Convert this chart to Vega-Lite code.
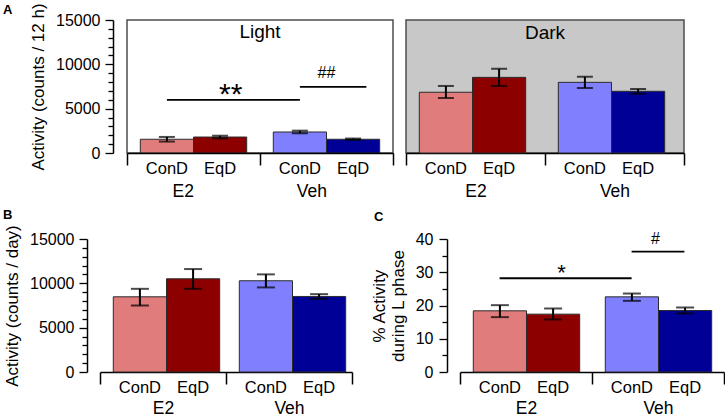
{
  "$schema": "https://vega.github.io/schema/vega-lite/v6.json",
  "background": "white",
  "padding": {"left": 3, "top": 2, "right": 0, "bottom": 0},
  "columns": 1,
  "align": "none",
  "spacing": 7,
  "datasets": {
    "light": [
      {"group": "E2", "cond": "ConD", "key": "E2 ConD", "mean": 1550, "lo": 1290, "hi": 1810},
      {"group": "E2", "cond": "EqD", "key": "E2 EqD", "mean": 1800, "lo": 1650, "hi": 1950},
      {"group": "Veh", "cond": "ConD", "key": "Veh ConD", "mean": 2370, "lo": 2220, "hi": 2520},
      {"group": "Veh", "cond": "EqD", "key": "Veh EqD", "mean": 1550, "lo": 1470, "hi": 1630}
    ],
    "dark": [
      {"group": "E2", "cond": "ConD", "key": "E2 ConD", "mean": 6850, "lo": 6200, "hi": 7560},
      {"group": "E2", "cond": "EqD", "key": "E2 EqD", "mean": 8530, "lo": 7560, "hi": 9500},
      {"group": "Veh", "cond": "ConD", "key": "Veh ConD", "mean": 7970, "lo": 7330, "hi": 8600},
      {"group": "Veh", "cond": "EqD", "key": "Veh EqD", "mean": 6960, "lo": 6690, "hi": 7220}
    ],
    "day": [
      {"group": "E2", "cond": "ConD", "key": "E2 ConD", "mean": 8480, "lo": 7500, "hi": 9380},
      {"group": "E2", "cond": "EqD", "key": "E2 EqD", "mean": 10510, "lo": 9380, "hi": 11610},
      {"group": "Veh", "cond": "ConD", "key": "Veh ConD", "mean": 10290, "lo": 9540, "hi": 11010},
      {"group": "Veh", "cond": "EqD", "key": "Veh EqD", "mean": 8520, "lo": 8250, "hi": 8780}
    ],
    "pct": [
      {"group": "E2", "cond": "ConD", "key": "E2 ConD", "mean": 18.4, "lo": 16.5, "hi": 20.1},
      {"group": "E2", "cond": "EqD", "key": "E2 EqD", "mean": 17.4, "lo": 15.8, "hi": 19.1},
      {"group": "Veh", "cond": "ConD", "key": "Veh ConD", "mean": 22.6, "lo": 21.4, "hi": 23.6},
      {"group": "Veh", "cond": "EqD", "key": "Veh EqD", "mean": 18.5, "lo": 17.6, "hi": 19.4}
    ]
  },
  "concat": [
    {
      "spacing": 10,
      "hconcat": [
        {
          "width": 293,
          "height": 133,
          "title": {"text": "A", "anchor": "start", "frame": "group", "dx": -97, "dy": 18},
          "layer": [
            {
              "data": {"values": [{"panel": "Light"}]},
              "mark": {"type": "rect", "fill": "#ffffff", "stroke": "#4d4d4d", "strokeWidth": 1.5},
              "encoding": {
                "x": {"datum": "E2", "type": "nominal", "bandPosition": 0, "title": null},
                "x2": {"datum": "Veh", "bandPosition": 1},
                "y": {"datum": 0, "type": "quantitative", "title": "Activity (counts / 12 h)",
                  "axis": {"values": [0,1000,2000,3000,4000,5000,6000,7000,8000,9000,10000,11000,12000,13000,14000,15000], "format": "d", "offset": -13, "labelExpr": "datum.value % 5000 === 0 ? datum.label : ''", "tickSize": {"condition": {"test": "datum.value % 5000 === 0", "value": 8}, "value": 5}}},
                "y2": {"datum": 15000}
              }
            },
            {
              "data": {"name": "light"},
              "mark": {"type": "bar", "stroke": "#2b2b2b", "strokeWidth": 1},
              "encoding": {
                "x": {"field": "group", "type": "nominal", "title": null, "scale": {"domain": ["E2", "Veh"], "range": [27, 293], "paddingInner": 0, "paddingOuter": 0},
                  "axis": {"title": null, "tickBand": "extent", "tickSize": 12, "tickWidth": 1.5, "domainWidth": 1.5, "labelFontSize": 17.5, "labelBaseline": "alphabetic", "labelPadding": 31, "labelAngle": 0}},
                "xOffset": {"field": "cond", "type": "nominal", "scale": {"domain": ["ConD", "EqD"], "paddingInner": 0, "paddingOuter": 0.25}},
                "y": {"field": "mean", "type": "quantitative", "title": "Activity (counts / 12 h)", "scale": {"domain": [0, 15000], "nice": false},
                  "axis": {"values": [0,1000,2000,3000,4000,5000,6000,7000,8000,9000,10000,11000,12000,13000,14000,15000], "format": "d", "offset": -13, "labelExpr": "datum.value % 5000 === 0 ? datum.label : ''", "tickSize": {"condition": {"test": "datum.value % 5000 === 0", "value": 8}, "value": 5}}},
                "color": {"field": "key", "type": "nominal", "scale": {"domain": ["E2 ConD", "E2 EqD", "Veh ConD", "Veh EqD"], "range": ["#e07c7c", "#8c0000", "#8080ff", "#000096"]}, "legend": null}
              }
            },
            {
              "data": {"name": "light"},
              "mark": {"type": "rule", "strokeWidth": 2, "color": "#000"},
              "encoding": {
                "x": {"field": "group", "type": "nominal", "title": null},
                "xOffset": {"field": "cond", "type": "nominal"},
                "y": {"field": "lo", "type": "quantitative", "title": "Activity (counts / 12 h)",
                  "axis": {"values": [0,1000,2000,3000,4000,5000,6000,7000,8000,9000,10000,11000,12000,13000,14000,15000], "format": "d", "offset": -13, "labelExpr": "datum.value % 5000 === 0 ? datum.label : ''", "tickSize": {"condition": {"test": "datum.value % 5000 === 0", "value": 8}, "value": 5}}},
                "y2": {"field": "hi"}
              }
            },
            {
              "data": {"name": "light"},
              "mark": {"type": "tick", "thickness": 2, "size": 16, "color": "#000", "orient": "horizontal"},
              "encoding": {
                "x": {"field": "group", "type": "nominal", "title": null},
                "xOffset": {"field": "cond", "type": "nominal"},
                "y": {"field": "lo", "type": "quantitative", "title": "Activity (counts / 12 h)",
                  "axis": {"values": [0,1000,2000,3000,4000,5000,6000,7000,8000,9000,10000,11000,12000,13000,14000,15000], "format": "d", "offset": -13, "labelExpr": "datum.value % 5000 === 0 ? datum.label : ''", "tickSize": {"condition": {"test": "datum.value % 5000 === 0", "value": 8}, "value": 5}}}
              }
            },
            {
              "data": {"name": "light"},
              "mark": {"type": "tick", "thickness": 2, "size": 16, "color": "#000", "orient": "horizontal"},
              "encoding": {
                "x": {"field": "group", "type": "nominal", "title": null},
                "xOffset": {"field": "cond", "type": "nominal"},
                "y": {"field": "hi", "type": "quantitative", "title": "Activity (counts / 12 h)",
                  "axis": {"values": [0,1000,2000,3000,4000,5000,6000,7000,8000,9000,10000,11000,12000,13000,14000,15000], "format": "d", "offset": -13, "labelExpr": "datum.value % 5000 === 0 ? datum.label : ''", "tickSize": {"condition": {"test": "datum.value % 5000 === 0", "value": 8}, "value": 5}}}
              }
            },
            {
              "data": {"name": "light"},
              "mark": {"type": "text", "fontSize": 16.5, "baseline": "alphabetic", "dy": 21, "color": "#000"},
              "encoding": {
                "x": {"field": "group", "type": "nominal", "title": null},
                "xOffset": {"field": "cond", "type": "nominal"},
                "y": {"datum": 0, "type": "quantitative", "title": "Activity (counts / 12 h)",
                  "axis": {"values": [0,1000,2000,3000,4000,5000,6000,7000,8000,9000,10000,11000,12000,13000,14000,15000], "format": "d", "offset": -13, "labelExpr": "datum.value % 5000 === 0 ? datum.label : ''", "tickSize": {"condition": {"test": "datum.value % 5000 === 0", "value": 8}, "value": 5}}},
                "text": {"field": "cond"}
              }
            },
            {
              "data": {"values": [{"label": "**", "from": "E2", "to": "Veh", "level": 6000}]},
              "layer": [
                {
                  "mark": {"type": "rule", "strokeWidth": 1.8, "color": "#000"},
                  "encoding": {
                    "x": {"field": "from", "type": "nominal", "bandPosition": 0.3, "title": null},
                    "x2": {"field": "to", "bandPosition": 0.3},
                    "y": {"field": "level", "type": "quantitative", "title": "Activity (counts / 12 h)",
                      "axis": {"values": [0,1000,2000,3000,4000,5000,6000,7000,8000,9000,10000,11000,12000,13000,14000,15000], "format": "d", "offset": -13, "labelExpr": "datum.value % 5000 === 0 ? datum.label : ''", "tickSize": {"condition": {"test": "datum.value % 5000 === 0", "value": 8}, "value": 5}}}
                  }
                },
                {
                  "mark": {"type": "text", "fontSize": 30, "baseline": "alphabetic", "dy": 4, "color": "#000"},
                  "encoding": {
                    "x": {"field": "from", "type": "nominal", "bandPosition": 0.78, "title": null},
                    "y": {"field": "level", "type": "quantitative", "title": "Activity (counts / 12 h)",
                      "axis": {"values": [0,1000,2000,3000,4000,5000,6000,7000,8000,9000,10000,11000,12000,13000,14000,15000], "format": "d", "offset": -13, "labelExpr": "datum.value % 5000 === 0 ? datum.label : ''", "tickSize": {"condition": {"test": "datum.value % 5000 === 0", "value": 8}, "value": 5}}},
                    "text": {"field": "label"}
                  }
                }
              ]
            },
            {
              "data": {"values": [{"label": "##", "from": "Veh", "to": "Veh", "level": 7450}]},
              "layer": [
                {
                  "mark": {"type": "rule", "strokeWidth": 1.8, "color": "#000"},
                  "encoding": {
                    "x": {"field": "from", "type": "nominal", "bandPosition": 0.3, "title": null},
                    "x2": {"field": "to", "bandPosition": 0.8},
                    "y": {"field": "level", "type": "quantitative", "title": "Activity (counts / 12 h)",
                      "axis": {"values": [0,1000,2000,3000,4000,5000,6000,7000,8000,9000,10000,11000,12000,13000,14000,15000], "format": "d", "offset": -13, "labelExpr": "datum.value % 5000 === 0 ? datum.label : ''", "tickSize": {"condition": {"test": "datum.value % 5000 === 0", "value": 8}, "value": 5}}}
                  }
                },
                {
                  "mark": {"type": "text", "fontSize": 16, "baseline": "alphabetic", "dy": -9, "color": "#000"},
                  "encoding": {
                    "x": {"field": "to", "type": "nominal", "bandPosition": 0.5, "title": null},
                    "y": {"field": "level", "type": "quantitative", "title": "Activity (counts / 12 h)",
                      "axis": {"values": [0,1000,2000,3000,4000,5000,6000,7000,8000,9000,10000,11000,12000,13000,14000,15000], "format": "d", "offset": -13, "labelExpr": "datum.value % 5000 === 0 ? datum.label : ''", "tickSize": {"condition": {"test": "datum.value % 5000 === 0", "value": 8}, "value": 5}}},
                    "text": {"field": "label"}
                  }
                }
              ]
            },
            {
              "data": {"values": [{"phase": "Light"}]},
              "mark": {"type": "text", "fontSize": 19, "baseline": "alphabetic", "color": "#000"},
              "encoding": {
                "x": {"datum": "Veh", "type": "nominal", "bandPosition": 0, "title": null},
                "y": {"datum": 13000, "type": "quantitative", "title": "Activity (counts / 12 h)",
                  "axis": {"values": [0,1000,2000,3000,4000,5000,6000,7000,8000,9000,10000,11000,12000,13000,14000,15000], "format": "d", "offset": -13, "labelExpr": "datum.value % 5000 === 0 ? datum.label : ''", "tickSize": {"condition": {"test": "datum.value % 5000 === 0", "value": 8}, "value": 5}}},
                "text": {"field": "phase"}
              }
            }
          ]
        },
        {
          "width": 278,
          "height": 133,
          "view": {"stroke": "#4d4d4d", "strokeWidth": 1.5, "fill": "#c8c8c8"},
          "layer": [
            {
              "data": {"name": "dark"},
              "mark": {"type": "bar", "stroke": "#2b2b2b", "strokeWidth": 1},
              "encoding": {
                "x": {"field": "group", "type": "nominal", "title": null, "scale": {"domain": ["E2", "Veh"], "paddingInner": 0, "paddingOuter": 0},
                  "axis": {"title": null, "tickBand": "extent", "tickSize": 12, "tickWidth": 1.5, "domainWidth": 1.5, "labelFontSize": 17.5, "labelBaseline": "alphabetic", "labelPadding": 31, "labelAngle": 0}},
                "xOffset": {"field": "cond", "type": "nominal", "scale": {"domain": ["ConD", "EqD"], "paddingInner": 0, "paddingOuter": 0.25}},
                "y": {"field": "mean", "type": "quantitative", "scale": {"domain": [0, 15000], "nice": false}, "axis": null},
                "color": {"field": "key", "type": "nominal", "scale": {"domain": ["E2 ConD", "E2 EqD", "Veh ConD", "Veh EqD"], "range": ["#e07c7c", "#8c0000", "#8080ff", "#000096"]}, "legend": null}
              }
            },
            {
              "data": {"name": "dark"},
              "mark": {"type": "rule", "strokeWidth": 2, "color": "#000"},
              "encoding": {
                "x": {"field": "group", "type": "nominal", "title": null},
                "xOffset": {"field": "cond", "type": "nominal"},
                "y": {"field": "lo", "type": "quantitative", "axis": null},
                "y2": {"field": "hi"}
              }
            },
            {
              "data": {"name": "dark"},
              "mark": {"type": "tick", "thickness": 2, "size": 16, "color": "#000", "orient": "horizontal"},
              "encoding": {
                "x": {"field": "group", "type": "nominal", "title": null},
                "xOffset": {"field": "cond", "type": "nominal"},
                "y": {"field": "lo", "type": "quantitative", "axis": null}
              }
            },
            {
              "data": {"name": "dark"},
              "mark": {"type": "tick", "thickness": 2, "size": 16, "color": "#000", "orient": "horizontal"},
              "encoding": {
                "x": {"field": "group", "type": "nominal", "title": null},
                "xOffset": {"field": "cond", "type": "nominal"},
                "y": {"field": "hi", "type": "quantitative", "axis": null}
              }
            },
            {
              "data": {"name": "dark"},
              "mark": {"type": "text", "fontSize": 16.5, "baseline": "alphabetic", "dy": 21, "color": "#000"},
              "encoding": {
                "x": {"field": "group", "type": "nominal", "title": null},
                "xOffset": {"field": "cond", "type": "nominal"},
                "y": {"datum": 0, "type": "quantitative", "axis": null},
                "text": {"field": "cond"}
              }
            },
            {
              "data": {"values": [{"phase": "Dark"}]},
              "mark": {"type": "text", "fontSize": 19, "baseline": "alphabetic", "color": "#000"},
              "encoding": {
                "y": {"datum": 12900, "type": "quantitative", "axis": null},
                "text": {"field": "phase"}
              }
            }
          ]
        }
      ]
    },
    {
      "spacing": 17,
      "hconcat": [
        {
          "width": 252,
          "height": 133,
          "title": {"text": "B", "anchor": "start", "frame": "group", "dx": -97, "dy": 1},
          "layer": [
            {
              "data": {"name": "day"},
              "mark": {"type": "bar", "stroke": "#2b2b2b", "strokeWidth": 1},
              "encoding": {
                "x": {"field": "group", "type": "nominal", "title": null, "scale": {"domain": ["E2", "Veh"], "paddingInner": 0, "paddingOuter": 0},
                  "axis": {"title": null, "tickBand": "extent", "tickSize": 12, "tickWidth": 1.5, "domainWidth": 1.5, "labelFontSize": 17.5, "labelBaseline": "alphabetic", "labelPadding": 29, "labelAngle": 0}},
                "xOffset": {"field": "cond", "type": "nominal", "scale": {"domain": ["ConD", "EqD"], "paddingInner": 0, "paddingOuter": 0.25}},
                "y": {"field": "mean", "type": "quantitative", "title": "Activity (counts / day)", "scale": {"domain": [0, 15000], "nice": false},
                  "axis": {"values": [0,1000,2000,3000,4000,5000,6000,7000,8000,9000,10000,11000,12000,13000,14000,15000], "format": "d", "offset": 13, "labelExpr": "datum.value % 5000 === 0 ? datum.label : ''", "tickSize": {"condition": {"test": "datum.value % 5000 === 0", "value": 8}, "value": 5}}},
                "color": {"field": "key", "type": "nominal", "scale": {"domain": ["E2 ConD", "E2 EqD", "Veh ConD", "Veh EqD"], "range": ["#e07c7c", "#8c0000", "#8080ff", "#000096"]}, "legend": null}
              }
            },
            {
              "data": {"name": "day"},
              "mark": {"type": "rule", "strokeWidth": 2, "color": "#000"},
              "encoding": {
                "x": {"field": "group", "type": "nominal", "title": null},
                "xOffset": {"field": "cond", "type": "nominal"},
                "y": {"field": "lo", "type": "quantitative", "title": "Activity (counts / day)",
                  "axis": {"values": [0,1000,2000,3000,4000,5000,6000,7000,8000,9000,10000,11000,12000,13000,14000,15000], "format": "d", "offset": 13, "labelExpr": "datum.value % 5000 === 0 ? datum.label : ''", "tickSize": {"condition": {"test": "datum.value % 5000 === 0", "value": 8}, "value": 5}}},
                "y2": {"field": "hi"}
              }
            },
            {
              "data": {"name": "day"},
              "mark": {"type": "tick", "thickness": 2, "size": 18, "color": "#000", "orient": "horizontal"},
              "encoding": {
                "x": {"field": "group", "type": "nominal", "title": null},
                "xOffset": {"field": "cond", "type": "nominal"},
                "y": {"field": "lo", "type": "quantitative", "title": "Activity (counts / day)",
                  "axis": {"values": [0,1000,2000,3000,4000,5000,6000,7000,8000,9000,10000,11000,12000,13000,14000,15000], "format": "d", "offset": 13, "labelExpr": "datum.value % 5000 === 0 ? datum.label : ''", "tickSize": {"condition": {"test": "datum.value % 5000 === 0", "value": 8}, "value": 5}}}
              }
            },
            {
              "data": {"name": "day"},
              "mark": {"type": "tick", "thickness": 2, "size": 18, "color": "#000", "orient": "horizontal"},
              "encoding": {
                "x": {"field": "group", "type": "nominal", "title": null},
                "xOffset": {"field": "cond", "type": "nominal"},
                "y": {"field": "hi", "type": "quantitative", "title": "Activity (counts / day)",
                  "axis": {"values": [0,1000,2000,3000,4000,5000,6000,7000,8000,9000,10000,11000,12000,13000,14000,15000], "format": "d", "offset": 13, "labelExpr": "datum.value % 5000 === 0 ? datum.label : ''", "tickSize": {"condition": {"test": "datum.value % 5000 === 0", "value": 8}, "value": 5}}}
              }
            },
            {
              "data": {"name": "day"},
              "mark": {"type": "text", "fontSize": 16.5, "baseline": "alphabetic", "dy": 21, "color": "#000"},
              "encoding": {
                "x": {"field": "group", "type": "nominal", "title": null},
                "xOffset": {"field": "cond", "type": "nominal"},
                "y": {"datum": 0, "type": "quantitative", "title": "Activity (counts / day)",
                  "axis": {"values": [0,1000,2000,3000,4000,5000,6000,7000,8000,9000,10000,11000,12000,13000,14000,15000], "format": "d", "offset": 13, "labelExpr": "datum.value % 5000 === 0 ? datum.label : ''", "tickSize": {"condition": {"test": "datum.value % 5000 === 0", "value": 8}, "value": 5}}},
                "text": {"field": "cond"}
              }
            }
          ]
        },
        {
          "width": 264,
          "height": 133,
          "title": {"text": "C", "anchor": "start", "frame": "group", "dx": -86, "dy": -3},
          "layer": [
            {
              "data": {"name": "pct"},
              "mark": {"type": "bar", "stroke": "#2b2b2b", "strokeWidth": 1},
              "encoding": {
                "x": {"field": "group", "type": "nominal", "title": null, "scale": {"domain": ["E2", "Veh"], "paddingInner": 0, "paddingOuter": 0},
                  "axis": {"title": null, "tickBand": "extent", "tickSize": 12, "tickWidth": 1.5, "domainWidth": 1.5, "labelFontSize": 17.5, "labelBaseline": "alphabetic", "labelPadding": 29, "labelAngle": 0}},
                "xOffset": {"field": "cond", "type": "nominal", "scale": {"domain": ["ConD", "EqD"], "paddingInner": 0, "paddingOuter": 0.25}},
                "y": {"field": "mean", "type": "quantitative", "title": ["% Activity", "during L phase"], "scale": {"domain": [0, 40], "nice": false},
                  "axis": {"values": [0,5,10,15,20,25,30,35,40], "format": "d", "offset": 13, "labelPadding": 6, "titleLineHeight": 19, "labelExpr": "datum.value % 10 === 0 ? datum.label : ''", "tickSize": {"condition": {"test": "datum.value % 10 === 0", "value": 8}, "value": 5}}},
                "color": {"field": "key", "type": "nominal", "scale": {"domain": ["E2 ConD", "E2 EqD", "Veh ConD", "Veh EqD"], "range": ["#e07c7c", "#8c0000", "#8080ff", "#000096"]}, "legend": null}
              }
            },
            {
              "data": {"name": "pct"},
              "mark": {"type": "rule", "strokeWidth": 2, "color": "#000"},
              "encoding": {
                "x": {"field": "group", "type": "nominal", "title": null},
                "xOffset": {"field": "cond", "type": "nominal"},
                "y": {"field": "lo", "type": "quantitative", "title": ["% Activity", "during L phase"],
                  "axis": {"values": [0,5,10,15,20,25,30,35,40], "format": "d", "offset": 13, "labelPadding": 6, "titleLineHeight": 19, "labelExpr": "datum.value % 10 === 0 ? datum.label : ''", "tickSize": {"condition": {"test": "datum.value % 10 === 0", "value": 8}, "value": 5}}},
                "y2": {"field": "hi"}
              }
            },
            {
              "data": {"name": "pct"},
              "mark": {"type": "tick", "thickness": 2, "size": 18, "color": "#000", "orient": "horizontal"},
              "encoding": {
                "x": {"field": "group", "type": "nominal", "title": null},
                "xOffset": {"field": "cond", "type": "nominal"},
                "y": {"field": "lo", "type": "quantitative", "title": ["% Activity", "during L phase"],
                  "axis": {"values": [0,5,10,15,20,25,30,35,40], "format": "d", "offset": 13, "labelPadding": 6, "titleLineHeight": 19, "labelExpr": "datum.value % 10 === 0 ? datum.label : ''", "tickSize": {"condition": {"test": "datum.value % 10 === 0", "value": 8}, "value": 5}}}
              }
            },
            {
              "data": {"name": "pct"},
              "mark": {"type": "tick", "thickness": 2, "size": 18, "color": "#000", "orient": "horizontal"},
              "encoding": {
                "x": {"field": "group", "type": "nominal", "title": null},
                "xOffset": {"field": "cond", "type": "nominal"},
                "y": {"field": "hi", "type": "quantitative", "title": ["% Activity", "during L phase"],
                  "axis": {"values": [0,5,10,15,20,25,30,35,40], "format": "d", "offset": 13, "labelPadding": 6, "titleLineHeight": 19, "labelExpr": "datum.value % 10 === 0 ? datum.label : ''", "tickSize": {"condition": {"test": "datum.value % 10 === 0", "value": 8}, "value": 5}}}
              }
            },
            {
              "data": {"name": "pct"},
              "mark": {"type": "text", "fontSize": 16.5, "baseline": "alphabetic", "dy": 21, "color": "#000"},
              "encoding": {
                "x": {"field": "group", "type": "nominal", "title": null},
                "xOffset": {"field": "cond", "type": "nominal"},
                "y": {"datum": 0, "type": "quantitative", "title": ["% Activity", "during L phase"],
                  "axis": {"values": [0,5,10,15,20,25,30,35,40], "format": "d", "offset": 13, "labelPadding": 6, "titleLineHeight": 19, "labelExpr": "datum.value % 10 === 0 ? datum.label : ''", "tickSize": {"condition": {"test": "datum.value % 10 === 0", "value": 8}, "value": 5}}},
                "text": {"field": "cond"}
              }
            },
            {
              "data": {"values": [{"label": "*", "from": "E2", "to": "Veh", "level": 28.2}]},
              "layer": [
                {
                  "mark": {"type": "rule", "strokeWidth": 1.8, "color": "#000"},
                  "encoding": {
                    "x": {"field": "from", "type": "nominal", "bandPosition": 0.3, "title": null},
                    "x2": {"field": "to", "bandPosition": 0.3},
                    "y": {"field": "level", "type": "quantitative", "title": ["% Activity", "during L phase"],
                      "axis": {"values": [0,5,10,15,20,25,30,35,40], "format": "d", "offset": 13, "labelPadding": 6, "titleLineHeight": 19, "labelExpr": "datum.value % 10 === 0 ? datum.label : ''", "tickSize": {"condition": {"test": "datum.value % 10 === 0", "value": 8}, "value": 5}}}
                  }
                },
                {
                  "mark": {"type": "text", "fontSize": 22, "baseline": "alphabetic", "dy": 2, "color": "#000"},
                  "encoding": {
                    "x": {"field": "from", "type": "nominal", "bandPosition": 0.77, "title": null},
                    "y": {"field": "level", "type": "quantitative", "title": ["% Activity", "during L phase"],
                      "axis": {"values": [0,5,10,15,20,25,30,35,40], "format": "d", "offset": 13, "labelPadding": 6, "titleLineHeight": 19, "labelExpr": "datum.value % 10 === 0 ? datum.label : ''", "tickSize": {"condition": {"test": "datum.value % 10 === 0", "value": 8}, "value": 5}}},
                    "text": {"field": "label"}
                  }
                }
              ]
            },
            {
              "data": {"values": [{"label": "#", "from": "Veh", "to": "Veh", "level": 36.2}]},
              "layer": [
                {
                  "mark": {"type": "rule", "strokeWidth": 1.8, "color": "#000"},
                  "encoding": {
                    "x": {"field": "from", "type": "nominal", "bandPosition": 0.3, "title": null},
                    "x2": {"field": "to", "bandPosition": 0.7},
                    "y": {"field": "level", "type": "quantitative", "title": ["% Activity", "during L phase"],
                      "axis": {"values": [0,5,10,15,20,25,30,35,40], "format": "d", "offset": 13, "labelPadding": 6, "titleLineHeight": 19, "labelExpr": "datum.value % 10 === 0 ? datum.label : ''", "tickSize": {"condition": {"test": "datum.value % 10 === 0", "value": 8}, "value": 5}}}
                  }
                },
                {
                  "mark": {"type": "text", "fontSize": 16, "baseline": "alphabetic", "dy": -8, "color": "#000"},
                  "encoding": {
                    "x": {"field": "to", "type": "nominal", "bandPosition": 0.48, "title": null},
                    "y": {"field": "level", "type": "quantitative", "title": ["% Activity", "during L phase"],
                      "axis": {"values": [0,5,10,15,20,25,30,35,40], "format": "d", "offset": 13, "labelPadding": 6, "titleLineHeight": 19, "labelExpr": "datum.value % 10 === 0 ? datum.label : ''", "tickSize": {"condition": {"test": "datum.value % 10 === 0", "value": 8}, "value": 5}}},
                    "text": {"field": "label"}
                  }
                }
              ]
            }
          ]
        }
      ]
    }
  ],
  "config": {
    "font": "Liberation Sans",
    "view": {"stroke": null},
    "axis": {"domainColor": "#000", "tickColor": "#000", "labelColor": "#000", "titleColor": "#000", "labelFont": "Liberation Sans", "titleFont": "Liberation Sans", "titleFontWeight": "normal", "grid": false},
    "axisY": {"labelFontSize": 16, "labelPadding": 5, "titleFontSize": 17, "titlePadding": 8, "domainWidth": 1.5, "tickWidth": 1.3, "labelOverlap": false, "labelFlush": false, "labelBound": false},
    "title": {"font": "Liberation Sans", "fontSize": 13, "fontWeight": "bold", "color": "#000", "offset": 0}
  }
}
